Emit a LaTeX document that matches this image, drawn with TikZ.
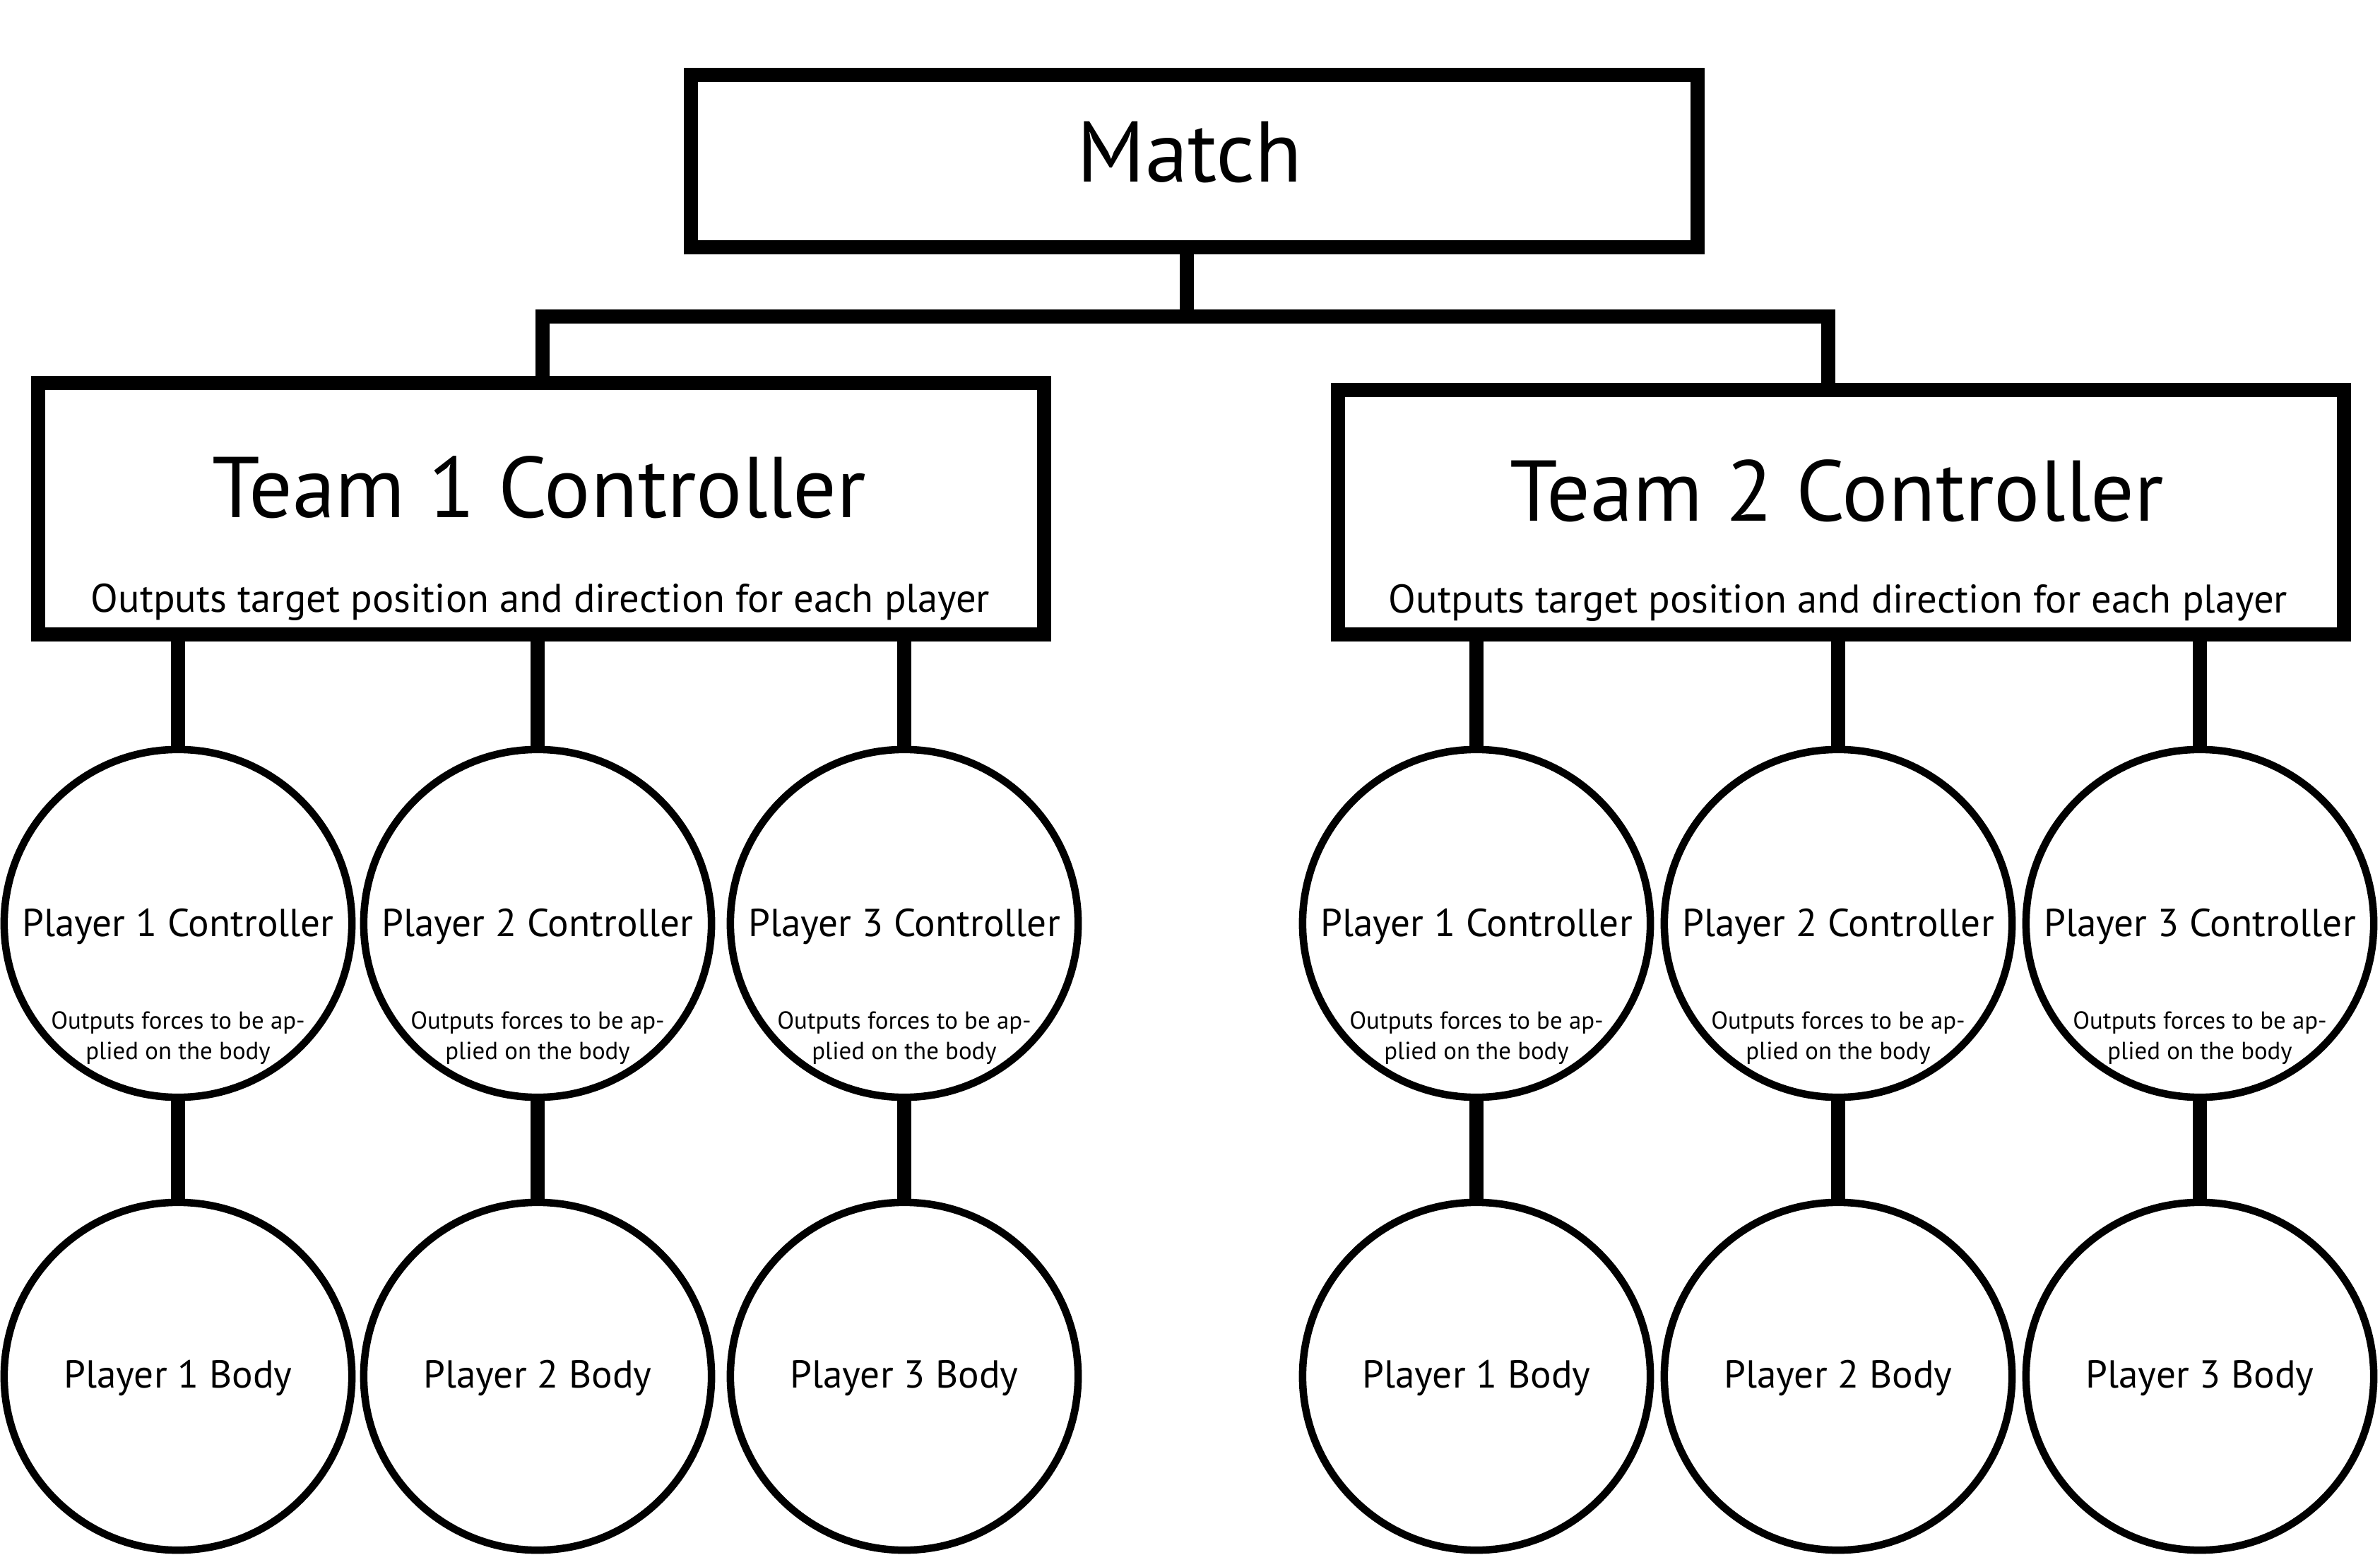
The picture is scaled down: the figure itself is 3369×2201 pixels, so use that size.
\documentclass[tikz,border=0pt]{standalone}
\usepackage{fontspec}
\setmainfont{PT Sans}
\usetikzlibrary{positioning}

\begin{document}
\begin{tikzpicture}[x=0.01cm, y=-0.01cm,
    box/.style={draw, line width=0.2cm, minimum width=14.24cm, inner sep=0pt},
    ctrl/.style={circle, draw, line width=0.105cm, minimum size=4.92cm, inner sep=0pt},
    link/.style={line width=0.2cm},
    bigtxt/.style={font=\fontsize{34.7}{40}\selectfont, inner sep=0pt, anchor=base},
    midtxt/.style={font=\fontsize{16.1}{19}\selectfont, inner sep=0pt, anchor=base},
    ptxt/.style={font=\fontsize{15.7}{18}\selectfont, inner sep=0pt, anchor=base},
    smalltxt/.style={font=\fontsize{9.9}{11.95}\selectfont, inner sep=0pt, anchor=base, align=center}]
  \useasboundingbox (0,0) rectangle (3369,2201);
  % boxes
  \node[box, minimum height=2.435cm] (match) at (1690.5,227.75) {};
  \node[box, minimum height=3.56cm] (team1) at (766,720) {};
  \node[box, minimum height=3.46cm] (team2) at (2606,725) {};
  \node[bigtxt] (matchname) at (1684,258) {Match};
  \node[bigtxt] (team1name) at (763,733) {Team 1 Controller};
  \node[midtxt] (team1out) at (765,867) {Outputs target position and direction for each player};
  \node[bigtxt] (team2name) at (2600,738) {Team 2 Controller};
  \node[midtxt] (team2out) at (2602,868) {Outputs target position and direction for each player};
  % bar between match and teams
  \coordinate (barL) at (768,448);
  \coordinate (barM) at (1680,448);
  \coordinate (barR) at (2588,448);
  \draw[link] (match.south -| barM) -- (barM);
  \draw[link] (team1.north -| barL) -- (barL) -- (barR) -- (team2.north -| barR);
  % players
  \foreach \t/\p/\x in {1/1/252, 1/2/761, 1/3/1280, 2/1/2090, 2/2/2602, 2/3/3114} {
    \node[ctrl] (c\t\p) at (\x,1307) {};
    \node[ptxt] (lc\t\p) at (\x,1325) {Player \p{} Controller};
    \node[smalltxt] (ls\t\p) at (\x,1499) {Outputs forces to be ap-\\plied on the body};
    \node[ctrl] (b\t\p) at (\x,1948) {};
    \node[ptxt] (lb\t\p) at (\x,1964) {Player \p{} Body};
    \draw[link] (team\t.south -| c\t\p) -- (c\t\p);
    \draw[link] (c\t\p) -- (b\t\p);
  }
\end{tikzpicture}
\end{document}
